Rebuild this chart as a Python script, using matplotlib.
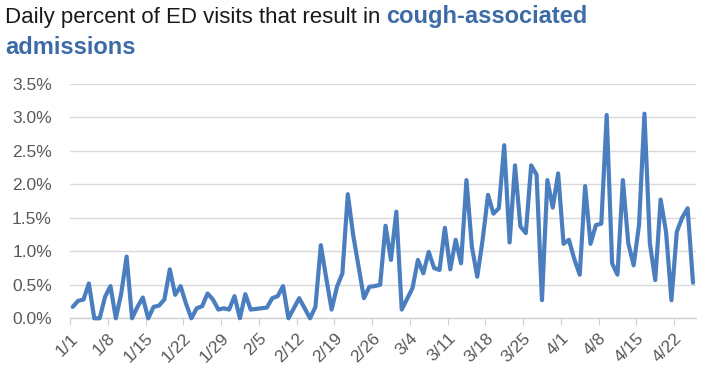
import matplotlib
matplotlib.use("Agg")
import matplotlib.pyplot as plt
import numpy as np
import pandas as pd

# daily share of ED visits resulting in cough-associated admissions (%), 1/1 - 4/25
pct_values = [
    0.17, 0.26, 0.28, 0.52, 0.0, 0.0, 0.32, 0.48, 0.0, 0.37,
    0.92, 0.0, 0.17, 0.31, 0.0, 0.17, 0.19, 0.28, 0.73, 0.35,
    0.48, 0.22, 0.0, 0.15, 0.18, 0.37, 0.28, 0.13, 0.15, 0.13,
    0.33, 0.0, 0.36, 0.13, 0.14, 0.15, 0.16, 0.30, 0.33, 0.48,
    0.0, 0.15, 0.30, 0.15, 0.0, 0.17, 1.09, 0.60, 0.13, 0.47,
    0.67, 1.85, 1.24, 0.77, 0.30, 0.47, 0.48, 0.50, 1.38, 0.87,
    1.59, 0.13, 0.29, 0.45, 0.87, 0.67, 0.99, 0.75, 0.72, 1.35,
    0.73, 1.17, 0.82, 2.06, 1.07, 0.62, 1.17, 1.84, 1.56, 1.64,
    2.58, 1.13, 2.28, 1.37, 1.27, 2.28, 2.14, 0.27, 2.06, 1.65,
    2.16, 1.11, 1.17, 0.88, 0.65, 1.97, 1.11, 1.39, 1.41, 3.03,
    0.82, 0.65, 2.06, 1.12, 0.79, 1.40, 3.05, 1.12, 0.57, 1.77,
    1.29, 0.27, 1.29, 1.50, 1.64, 0.53,
]
dates = pd.date_range("2024-01-01", periods=len(pct_values), freq="D")
tick_labels = [f"{d.month}/{d.day}" for d in dates[::7]]
y_ticks = [0.0, 0.5, 1.0, 1.5, 2.0, 2.5, 3.0, 3.5]

LINE_BLUE = "#4A7EBF"
TITLE_BLUE = "#3C6BA6"
GRAY = "#595959"
FONT = "Liberation Sans"

fig = plt.figure(figsize=(7.25, 3.83), dpi=100)
ax = fig.add_axes([70 / 725, 1 - 318.3 / 383, 625.7 / 725, 234.8 / 383])

x = np.arange(len(pct_values))
ax.plot(x, pct_values, color=LINE_BLUE, linewidth=3.0, solid_joinstyle="round",
        solid_capstyle="round", clip_on=False, zorder=3)

ax.set_ylim(0, 3.5)
ax.set_yticks(y_ticks)
ax.set_yticklabels([f"{v:.1f}%" for v in y_ticks], color=GRAY, fontsize=12.5, family=FONT)
ax.set_xlim(-0.5, len(pct_values) - 0.5)
ax.set_xticks(x[::7] - 0.5)
ax.set_xticklabels(tick_labels, rotation=45, ha="right", rotation_mode="anchor",
                   color=GRAY, fontsize=12.5, family=FONT)

ax.grid(axis="y", color="#D9D9D9", linewidth=1.0, zorder=0)
for side in ["top", "right", "left"]:
    ax.spines[side].set_visible(False)
ax.spines["bottom"].set_color("#D0D0D0")
ax.spines["bottom"].set_linewidth(1.0)
ax.tick_params(axis="y", length=0, pad=13)
ax.tick_params(axis="x", length=5, color="#D0D0D0", direction="out", pad=4)

# two-colour title
t1 = fig.text(5 / 725, 1 - 23 / 383, "Daily percent of ED visits that result in ",
              fontsize=16, color="#1A1A1A", family=FONT)
fig.canvas.draw()
bb = t1.get_window_extent()
fig.text(bb.x1 / fig.bbox.width, 1 - 23 / 383, "cough-associated",
         fontsize=17, color=TITLE_BLUE, family=FONT, fontweight="bold")
fig.text(5 / 725, 1 - 54 / 383, "admissions",
         fontsize=17, color=TITLE_BLUE, family=FONT, fontweight="bold")

fig.savefig("out.png", dpi=100)
